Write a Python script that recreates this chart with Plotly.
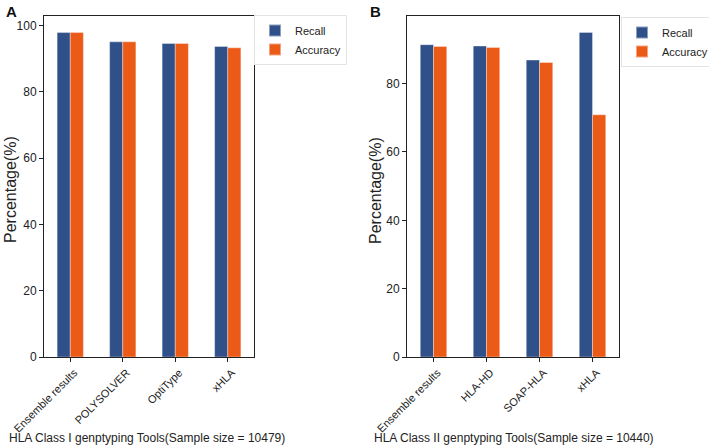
import plotly.graph_objects as go

tools_a = ["Ensemble results", "POLYSOLVER", "OptiType", "xHLA"]
recall_a = [97.9, 95.1, 94.6, 93.7]
accuracy_a = [97.9, 95.1, 94.6, 93.3]

tools_b = ["Ensemble results", "HLA-HD", "SOAP-HLA", "xHLA"]
recall_b = [91.4, 91.0, 86.9, 95.0]
accuracy_b = [90.9, 90.6, 86.2, 70.9]

yticks_a = [0, 20, 40, 60, 80, 100]
yticks_b = [0, 20, 40, 60, 80]

BLUE = "#2F5088"
ORANGE = "#EC5A18"
W, H = 709, 446
FONT = "Liberation Sans, Arial, sans-serif"

fig = go.Figure()
bar_line = dict(width=0.8, color="rgba(255,255,255,0.45)")
fig.add_trace(go.Bar(x=tools_a, y=recall_a, name="Recall", marker=dict(color=BLUE, line=bar_line),
                     xaxis="x", yaxis="y", legend="legend"))
fig.add_trace(go.Bar(x=tools_a, y=accuracy_a, name="Accuracy", marker=dict(color=ORANGE, line=bar_line),
                     xaxis="x", yaxis="y", legend="legend"))
fig.add_trace(go.Bar(x=tools_b, y=recall_b, name="Recall", marker=dict(color=BLUE, line=bar_line),
                     xaxis="x2", yaxis="y2", legend="legend2"))
fig.add_trace(go.Bar(x=tools_b, y=accuracy_b, name="Accuracy", marker=dict(color=ORANGE, line=bar_line),
                     xaxis="x2", yaxis="y2", legend="legend2"))

def px(v):
    return v / W

def py(v):
    return 1 - v / H

line_common = dict(showline=True, linecolor="#222", linewidth=1, mirror=True, showgrid=False,
                   zeroline=False, ticks="outside", ticklen=4, tickcolor="#222", automargin=False)

legend_common = dict(xanchor="left", yanchor="top", bgcolor="white",
                     bordercolor="#e3e3e3", borderwidth=1,
                     font=dict(family=FONT, size=11, color="#222"),
                     itemsizing="constant", tracegroupgap=0, itemwidth=30)

fig.update_layout(
    width=W, height=H, margin=dict(l=0, r=0, t=0, b=0, autoexpand=False),
    paper_bgcolor="white", plot_bgcolor="white",
    barmode="group", bargap=0.5, bargroupgap=0,
    font=dict(family=FONT, color="#222"),
    xaxis=dict(domain=[px(44), px(254)], anchor="y", range=[-0.5, 3.5], tickangle=-45,
               ticklabelshift=4,
               tickfont=dict(family=FONT, size=11, color="#222"), **line_common),
    yaxis=dict(domain=[py(357), py(16)], anchor="x", range=[0, 102.9],
               tickvals=yticks_a, tickfont=dict(family=FONT, size=12, color="#222"), **line_common),
    xaxis2=dict(domain=[px(407), px(619)], anchor="y2", range=[-0.5, 3.5], tickangle=-45,
                ticklabelshift=4,
                tickfont=dict(family=FONT, size=11, color="#222"), **line_common),
    yaxis2=dict(domain=[py(357), py(16)], anchor="x2", range=[0, 99.8],
                tickvals=yticks_b, tickfont=dict(family=FONT, size=12, color="#222"), **line_common),
    legend=dict(x=px(254), y=py(15), **legend_common),
    legend2=dict(x=px(621), y=py(17), **legend_common),
    annotations=[
        dict(text="<b>A</b>", x=px(11), y=py(12), xref="paper", yref="paper", xanchor="center",
             yanchor="middle", showarrow=False, font=dict(family=FONT, size=15, color="#111")),
        dict(text="<b>B</b>", x=px(376), y=py(12), xref="paper", yref="paper", xanchor="center",
             yanchor="middle", showarrow=False, font=dict(family=FONT, size=15, color="#111")),
        dict(text="Percentage(%)", x=px(10), y=py(190), xref="paper", yref="paper", textangle=-90,
             xanchor="center", yanchor="middle",
             showarrow=False, font=dict(family=FONT, size=16, color="#222")),
        dict(text="Percentage(%)", x=px(375), y=py(190), xref="paper", yref="paper", textangle=-90,
             xanchor="center", yanchor="middle",
             showarrow=False, font=dict(family=FONT, size=16, color="#222")),
        dict(text="HLA Class I genptyping Tools(Sample size = 10479)", x=px(147), y=py(438),
             xref="paper", yref="paper", xanchor="center", yanchor="middle",
             showarrow=False, font=dict(family=FONT, size=12, color="#222")),
        dict(text="HLA Class II genptyping Tools(Sample size = 10440)", x=px(514), y=py(438),
             xref="paper", yref="paper", xanchor="center", yanchor="middle",
             showarrow=False, font=dict(family=FONT, size=12, color="#222")),
    ],
)

fig.write_html("out.html", config={"displayModeBar": False},
               post_script="document.body.style.margin='0px';")
